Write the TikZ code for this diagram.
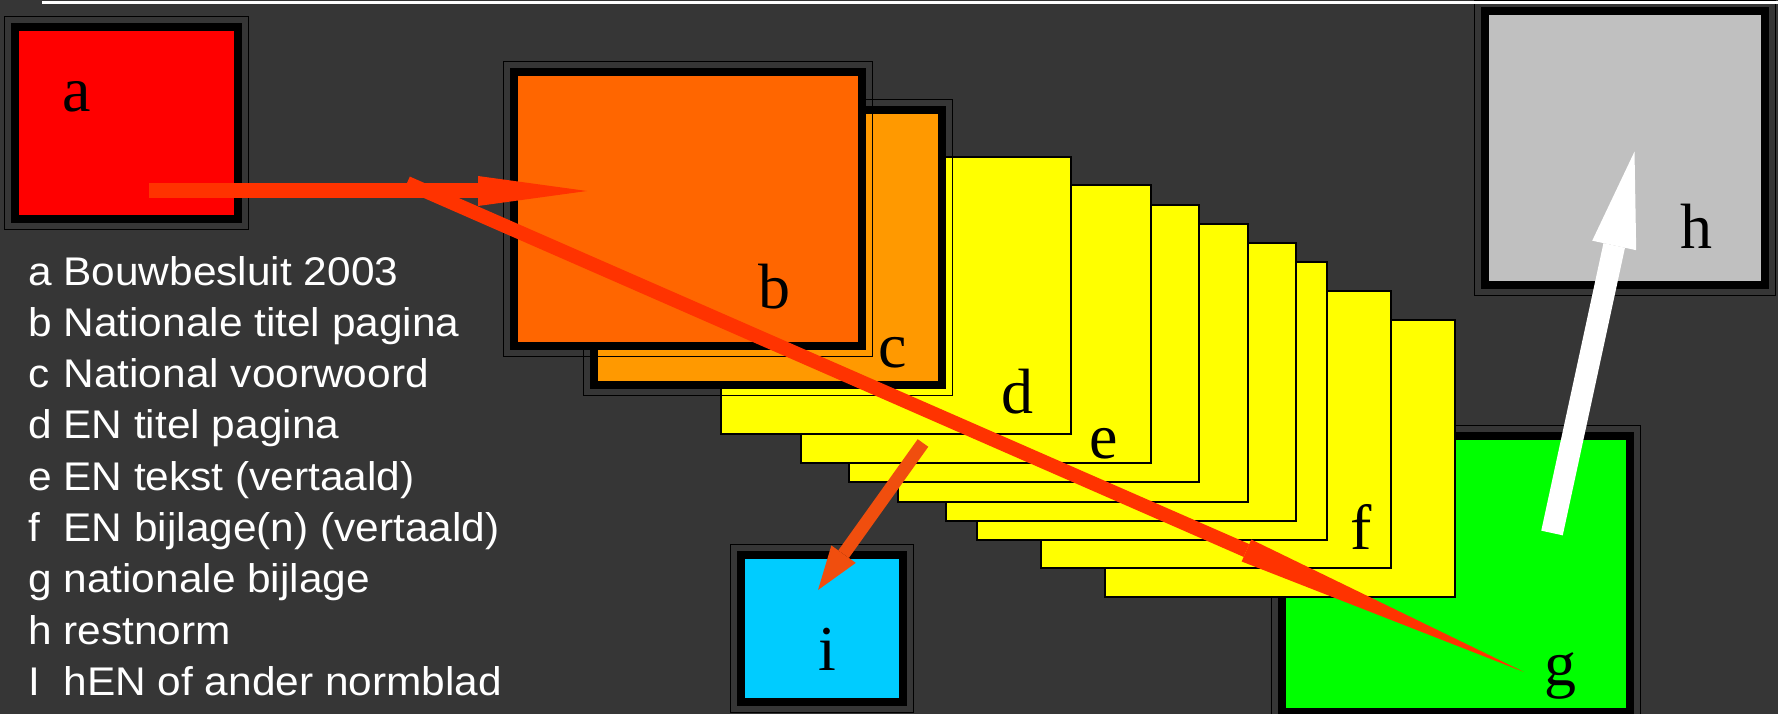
\documentclass[tikz,border=0pt]{standalone}
\usepackage{fontspec}
\setmainfont{Liberation Serif}
\newfontfamily\legendfont[FakeStretch=1.06]{Liberation Sans}
\usepackage{xcolor}
\usetikzlibrary{arrows.meta,calc}

\definecolor{bgcol}{HTML}{363636}
\definecolor{boxred}{HTML}{FF0000}
\definecolor{boxorange}{HTML}{FF6600}
\definecolor{boxamber}{HTML}{FF9900}
\definecolor{docyellow}{HTML}{FFFF00}
\definecolor{boxgreen}{HTML}{00FF00}
\definecolor{boxgray}{HTML}{C0C0C0}
\definecolor{boxcyan}{HTML}{00CCFF}
\definecolor{arrowred}{HTML}{FF3300}
\definecolor{arroworange}{HTML}{F04E0E}

\tikzset{
    sheet/.style={draw=black, line width=8pt, inner sep=0pt},
    rim/.style={draw=black, line width=1.5pt},
    page/.style={draw=black, line width=2pt, fill=docyellow, inner sep=0pt,
        minimum width=350pt, minimum height=277pt},
    letter/.style={font=\fontsize{64}{64}\selectfont, inner sep=0pt, anchor=base},
}

\newcommand{\sheetrim}[1]{\draw[rim] ($(#1.north west)+(-6.5,-6.5)$) rectangle ($(#1.south east)+(6.5,6.5)$);}

\begin{document}
\begin{tikzpicture}[x=1pt,y=-1pt]
    \useasboundingbox (0,0) rectangle (1778,714);
    \fill[bgcol] (0,0) rectangle (1778,714);

    % Bouwbesluit
    \node[sheet, fill=boxred, minimum width=223pt, minimum height=192pt] (a) at (126.5,123) {};
    \sheetrim{a}
    % restnorm
    \node[sheet, fill=boxgray, minimum width=280pt, minimum height=274pt] (h) at (1625,148) {};
    \sheetrim{h}
    % nationale bijlage
    \node[sheet, fill=boxgreen, minimum width=348pt, minimum height=276pt] (g) at (1456,574) {};
    \sheetrim{g}

    % EN pages, back to front
    \node[page] (p8) at (1280,458.5) {};
    \node[page] (f) at (1216,429.5) {};
    \node[page] (p6) at (1152,401) {};
    \node[page] (p5) at (1120.5,382) {};
    \node[page] (p4) at (1072.5,363) {};
    \node[page] (p3) at (1024,343.5) {};
    \node[page] (e) at (976,324) {};
    \node[page] (d) at (896,295.5) {};

    % national pages
    \node[sheet, fill=boxamber, minimum width=348pt, minimum height=275pt] (c) at (768,247.5) {};
    \sheetrim{c}
    \node[sheet, fill=boxorange, minimum width=348pt, minimum height=274pt] (b) at (688,209) {};
    \sheetrim{b}
    % hEN
    \node[sheet, fill=boxcyan, minimum width=162pt, minimum height=147pt] (i) at (822,628.5) {};
    \sheetrim{i}

    \draw[white, line width=3.2pt] (42,2.8) -- (1778,2.8);

    % letters
    \node[letter] (a-text) at (77,112) {a};
    \node[letter] (b-text) at (774,308) {b};
    \node[letter] (c-text) at (893,367) {c};
    \node[letter] (d-text) at (1017,413) {d};
    \node[letter] (e-text) at (1104,458) {e};
    \node[letter] (f-text) at (1361,549) {f};
    \node[letter] (g-text) at (1560,685) {g};
    \node[letter] (h-text) at (1696,248) {h};
    \node[letter] (i-text) at (827,670) {i};

    % legend
    \node[anchor=base west, inner sep=0pt, text=white,
        font=\legendfont\fontsize{40}{51.3}\selectfont] (legend) at (28,285)
        {\begin{tabular}[t]{@{}l@{\ }l@{}}
            a & Bouwbesluit 2003\\
            b & Nationale titel pagina\\
            c & National voorwoord\\
            d & EN titel pagina\\
            e & EN tekst (vertaald)\\
            f & EN bijlage(n) (vertaald)\\
            g & nationale bijlage\\
            h & restnorm\\
            I & hEN of ander normblad
        \end{tabular}};

    % arrow ends
    \coordinate (a-out) at (149,191);
    \coordinate (b-in) at (587,191);
    \coordinate (split) at (407,183);
    \coordinate (g-in) at (1524,672);
    \coordinate (d-out) at (923,443);
    \coordinate (i-in) at (818,590);
    \coordinate (g-out) at (1552,533);
    \coordinate (h-in) at (1634.5,151.6);

    % arrows
    \draw[arrowred, line width=15pt, -{Triangle[length=109pt,width=30pt,line width=0pt]}] (a-out) -- (b-in);
    \draw[arrowred, line width=14pt, -{Triangle[length=303pt,width=24pt,line width=0pt]}] (split) -- (g-in);
    \draw[arroworange, line width=13pt, -{Triangle[length=44pt,width=30pt,line width=0pt]}] (d-out) -- (i-in);
    \draw[white, line width=22pt, -{Triangle[length=96pt,width=45pt,line width=0pt]}] (g-out) -- (h-in);
\end{tikzpicture}
\end{document}
